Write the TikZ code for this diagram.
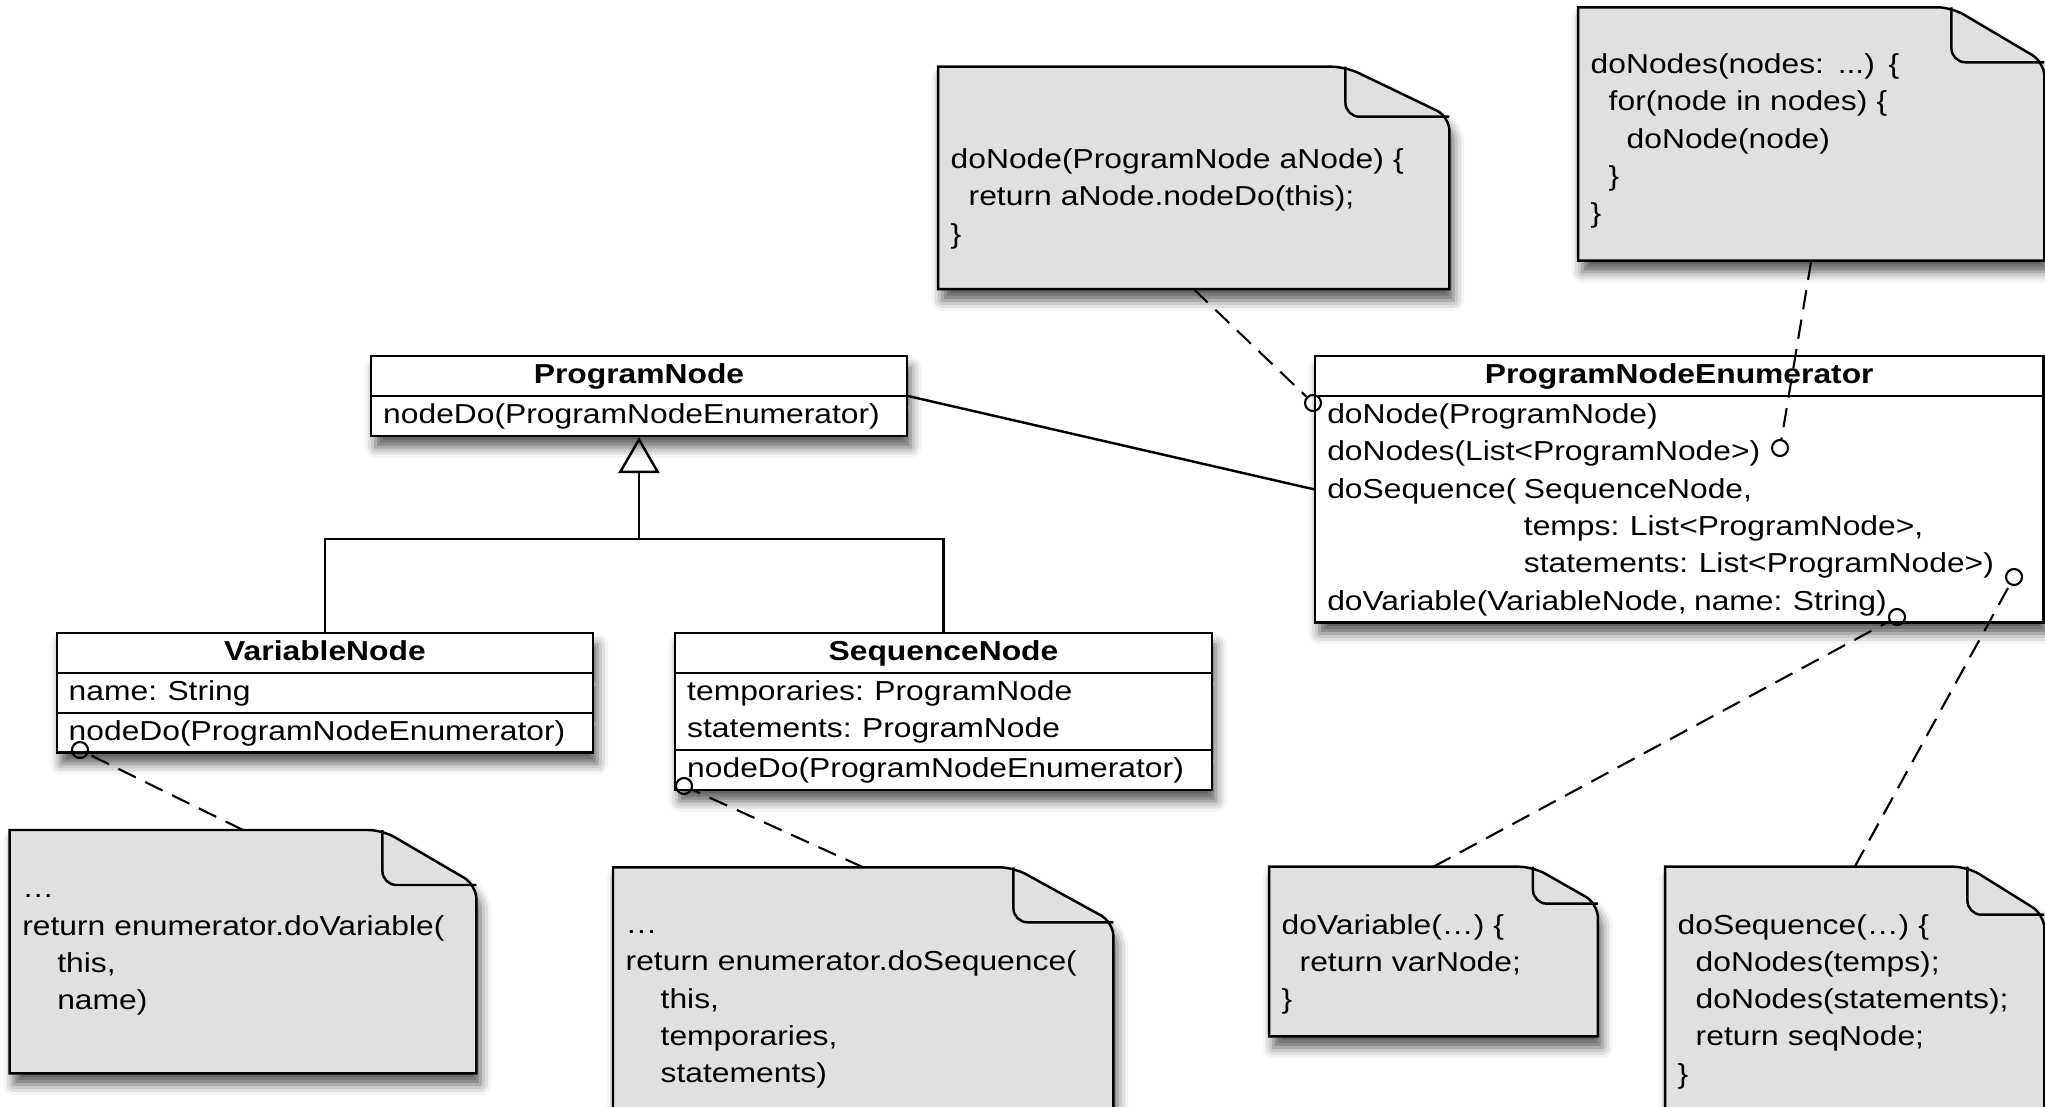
\documentclass[tikz,border=0pt]{standalone}
\usepackage{fontspec}
\setmainfont{Liberation Sans}[FakeStretch=1.16, WordSpace=0.85]
\usetikzlibrary{shapes.multipart, arrows.meta, backgrounds, shadows.blur}

\definecolor{notegray}{RGB}{224,224,224}
\newcommand{\umlsize}{\fontsize{7.8pt}{10.62pt}\selectfont}

% folded note outline behind a note node: node, fold width, fold height
\newcommand{\dogear}[3]{%
  \begin{scope}[on background layer]
    \draw[notebody] (#1.north west) [rounded corners=4pt] -- ([xshift=-#2]#1.north east)
      -- ([yshift=-#3]#1.north east) [sharp corners] -- (#1.south east) -- (#1.south west) -- cycle;
    \draw[noteline, rounded corners=4pt] ([xshift=-#2]#1.north east)
      -- ([xshift=-#2, yshift=-#3]#1.north east) -- ([yshift=-#3]#1.north east);
  \end{scope}}

\tikzset{
  umlshadow/.style={blur shadow={shadow xshift=1.2pt, shadow yshift=-3.2pt, shadow blur radius=3pt, shadow opacity=65}},
  umlclass/.style={rectangle split, rectangle split parts=#1, rectangle split part align={center,left,left},
    anchor=north west, draw, line width=0.7pt, fill=white, inner xsep=0.12cm, inner ysep=0pt,
    align=left, font=\umlsize, umlshadow},
  note/.style={anchor=north west, inner xsep=0.12cm, inner ysep=0pt, align=left, font=\umlsize},
  notebody/.style={draw, line width=0.7pt, fill=notegray, umlshadow},
  noteline/.style={line width=0.7pt},
  port/.style={circle, draw, line width=0.6pt, minimum size=0.16cm, inner sep=0pt},
  anchorline/.style={line width=0.6pt, dash pattern=on 5.5pt off 3pt},
  assoc/.style={line width=0.7pt},
  inherit/.style={line width=0.7pt, -{Triangle[open, length=0.36cm, width=0.41cm]}},
}

\begin{document}
\begin{tikzpicture}
  \useasboundingbox (0,0) rectangle (20.45,-11.06);

  % The classes
  \node[umlclass=2, minimum width=5.355cm] (pn) at (3.70,-3.55)
    {\strut\textbf{ProgramNode}\nodepart{two}\strut nodeDo(ProgramNodeEnumerator)};
  \node[umlclass=3, minimum width=5.365cm] (vn) at (0.555,-6.32)
    {\strut\textbf{VariableNode}\nodepart{two}\strut name: String\nodepart{three}\strut nodeDo(ProgramNodeEnumerator)};
  \node[umlclass=3, minimum width=5.365cm] (sn) at (6.74,-6.32)
    {\strut\textbf{SequenceNode}\nodepart{two}\strut temporaries: ProgramNode\\statements: ProgramNode\strut
     \nodepart{three}\strut nodeDo(ProgramNodeEnumerator)};
  \node[umlclass=2, minimum width=7.28cm] (en) at (13.14,-3.55)
    {\strut\textbf{ProgramNodeEnumerator}\nodepart{two}\strut doNode(ProgramNode)\\
     doNodes(List<ProgramNode>)\\
     doSequence( SequenceNode,\\
     \hphantom{doSequence( }temps: List<ProgramNode>,\\
     \hphantom{doSequence( }statements: List<ProgramNode>)\\
     doVariable(VariableNode, name: String)\strut};

  % Inheritance and association
  \coordinate (fork) at ([yshift=-1.02cm]pn.south);
  \draw[assoc] (vn.north) |- (fork) -| (sn.north);
  \draw[inherit] (fork) -- (pn.south);
  \draw[assoc] (pn.east) -- (en.west);

  % The notes
  \node[note, text width=4.86cm, text height=1.01cm, text depth=1.20cm] (ndo) at (9.38,-0.667)
    {doNode(ProgramNode aNode) \{\\
     \hspace*{0.18cm}return aNode.nodeDo(this);\\
     \}};
  \dogear{ndo}{1.04cm}{0.50cm}
  \node[note, text width=4.41cm, text height=0.654cm, text depth=1.866cm] (ndos) at (15.78,-0.073)
    {doNodes(nodes: ...) \{\\
     \hspace*{0.18cm}for(node in nodes) \{\\
     \hspace*{0.36cm}doNode(node)\\
     \hspace*{0.18cm}\}\\
     \}};
  \dogear{ndos}{0.93cm}{0.55cm}
  \node[note, text width=4.414cm, text height=0.67cm, text depth=1.75cm] (nvar) at (0.096,-8.30)
    {…\\
     return enumerator.doVariable(\\
     \hspace*{0.35cm}this,\\
     \hspace*{0.35cm}name)};
  \dogear{nvar}{0.94cm}{0.55cm}
  \node[note, text width=4.75cm, text height=0.654cm, text depth=2.0cm] (nseq) at (6.13,-8.673)
    {…\\
     return enumerator.doSequence(\\
     \hspace*{0.35cm}this,\\
     \hspace*{0.35cm}temporaries,\\
     \hspace*{0.35cm}statements)};
  \dogear{nseq}{1.0cm}{0.55cm}
  \node[note, text width=3.035cm, text height=0.666cm, text depth=1.017cm] (ndovar) at (12.69,-8.667)
    {doVariable(…) \{\\
     \hspace*{0.18cm}return varNode;\\
     \}};
  \dogear{ndovar}{0.65cm}{0.37cm}
  \node[note, text width=3.54cm, text height=0.666cm, text depth=1.95cm] (ndoseq) at (16.65,-8.667)
    {doSequence(…) \{\\
     \hspace*{0.18cm}doNodes(temps);\\
     \hspace*{0.18cm}doNodes(statements);\\
     \hspace*{0.18cm}return seqNode;\\
     \}};
  \dogear{ndoseq}{0.77cm}{0.48cm}

  % Ports where the notes are attached
  \node[port] (pdonode) at (13.13,-4.03) {};
  \node[port] (pdonodes) at (17.80,-4.48) {};
  \node[port] (pdoseq) at (20.14,-5.77) {};
  \node[port] (pdovar) at (18.97,-6.17) {};
  \node[port] (pvarnode) at (0.80,-7.50) {};
  \node[port] (pseqnode) at (6.84,-7.86) {};

  % Dashed note links
  \draw[anchorline] (ndo.south) -- (pdonode);
  \draw[anchorline] (ndos.south) -- (pdonodes);
  \draw[anchorline] (nvar.north) -- (pvarnode);
  \draw[anchorline] (nseq.north) -- (pseqnode);
  \draw[anchorline] (ndovar.north) -- (pdovar);
  \draw[anchorline] (ndoseq.north) -- (pdoseq);
\end{tikzpicture}
\end{document}
